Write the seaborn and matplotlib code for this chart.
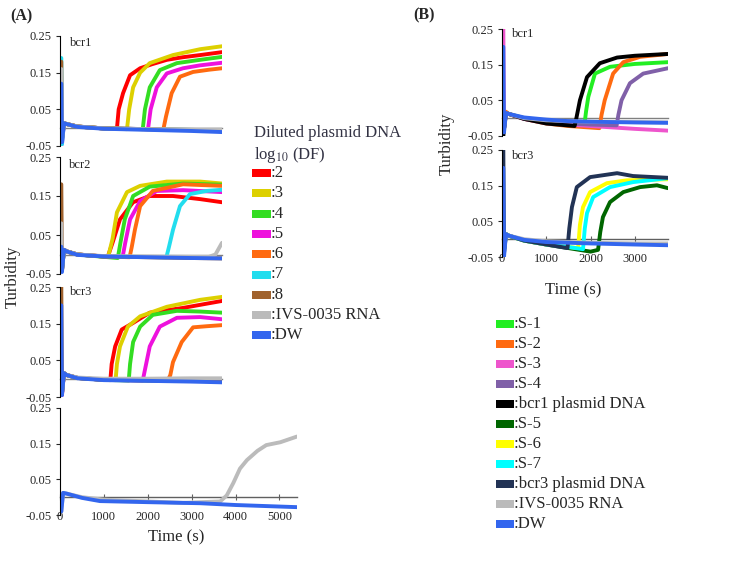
import pandas as pd
import matplotlib
matplotlib.use('Agg')
import matplotlib.pyplot as plt
from matplotlib.patches import Rectangle
import seaborn as sns

sns.set_style('white')
plt.rcParams['font.family'] = ['Liberation Serif', 'DejaVu Serif']
plt.rcParams['mathtext.fontset'] = 'stix'

# %% data: (time s, turbidity)
legA_labels = ['2', '3', '4', '5', '6', '7', '8', 'IVS-0035 RNA', 'DW']
legA_colors = ['#FF0000', '#DDD000', '#33DD22', '#EE11DD', '#FF6A10',
               '#22DDEE', '#A0622D', '#BBBBBB', '#3366EE']

legB_labels = ['S-1', 'S-2', 'S-3', 'S-4', 'bcr1 plasmid DNA', 'S-5', 'S-6',
               'S-7', 'bcr3 plasmid DNA', 'IVS-0035 RNA', 'DW']
legB_colors = ['#22EE22', '#FF6A10', '#EE55CC', '#8060A8', '#000000',
               '#006600', '#FFFF00', '#00FFFF', '#223355', '#BBBBBB', '#3366EE']

yticks = [0.25, 0.15, 0.05, -0.05]
ytick_labels = ['0.25', '0.15', '0.05', '-0.05']

A_bcr1 = {
    '2': ([30, 45, 90, 150, 400, 1000, 1300, 1340, 1440, 1600, 1830, 2100, 2440, 2800, 3200, 3700],
          [0.02, -0.03, 0.012, 0.01, 0.003, -0.002, -0.003, 0.05, 0.094, 0.143, 0.162, 0.173, 0.185, 0.192, 0.198, 0.206]),
    '3': ([30, 45, 90, 150, 400, 1000, 1530, 1580, 1670, 1830, 2050, 2580, 3200, 3700],
          [0.02, -0.03, 0.012, 0.01, 0.003, -0.002, -0.004, 0.05, 0.11, 0.15, 0.176, 0.198, 0.214, 0.222]),
    '4': ([30, 45, 90, 150, 400, 1000, 1890, 1940, 2050, 2280, 2670, 3200, 3700],
          [0.02, -0.03, 0.012, 0.01, 0.003, -0.002, -0.004, 0.05, 0.11, 0.157, 0.176, 0.185, 0.193]),
    '5': ([30, 45, 90, 150, 400, 1000, 2010, 2070, 2210, 2440, 2810, 3200, 3700],
          [0.02, -0.045, 0.012, 0.01, 0.003, -0.002, -0.004, 0.05, 0.11, 0.148, 0.162, 0.17, 0.177]),
    '6': ([30, 45, 90, 150, 400, 1000, 2360, 2420, 2550, 2740, 3040, 3400, 3700],
          [0.02, -0.03, 0.012, 0.01, 0.003, -0.002, -0.005, 0.03, 0.094, 0.139, 0.152, 0.158, 0.162]),
    '7': ([30, 45, 90, 150, 400, 1000, 2000, 3000, 3700],
          [0.19, -0.045, 0.012, 0.01, 0.003, -0.002, -0.004, -0.006, -0.008]),
    '8': ([30, 45, 90, 150, 400, 1000, 2000, 3000, 3700],
          [0.18, -0.03, 0.012, 0.01, 0.003, -0.002, -0.004, -0.006, -0.007]),
    'IVS-0035 RNA': ([30, 45, 90, 150, 400, 1000, 2000, 3000, 3700],
                     [0.16, -0.03, 0.012, 0.01, 0.003, -0.002, -0.004, -0.005, -0.005]),
    'DW': ([30, 45, 90, 150, 400, 1000, 2000, 3000, 3700],
           [0.12, -0.04, 0.012, 0.01, 0.002, -0.003, -0.006, -0.009, -0.012]),
}

A_bcr2 = {
    '2': ([30, 45, 90, 150, 400, 1000, 1090, 1200, 1370, 1670, 2050, 2580, 3200, 3700],
          [0.02, -0.04, 0.012, 0.008, 0.0, -0.005, -0.006, 0.03, 0.09, 0.134, 0.15, 0.15, 0.142, 0.134]),
    '3': ([30, 45, 90, 150, 400, 1000, 1100, 1200, 1300, 1530, 1830, 2440, 3200, 3700],
          [0.02, -0.04, 0.012, 0.008, 0.0, -0.005, -0.006, 0.04, 0.108, 0.16, 0.176, 0.187, 0.187, 0.182]),
    '4': ([30, 45, 90, 150, 400, 1000, 1320, 1380, 1480, 1670, 2050, 2810, 3700],
          [0.02, -0.04, 0.012, 0.008, 0.0, -0.006, -0.009, 0.03, 0.09, 0.15, 0.174, 0.182, 0.179]),
    '5': ([30, 45, 90, 150, 400, 1000, 1430, 1490, 1600, 1830, 2210, 2810, 3700],
          [0.02, -0.04, 0.012, 0.008, 0.0, -0.005, -0.006, 0.03, 0.09, 0.137, 0.163, 0.165, 0.16]),
    '6': ([30, 45, 90, 150, 400, 1000, 1590, 1640, 1710, 1830, 2120, 2810, 3700],
          [0.02, -0.04, 0.012, 0.008, 0.0, -0.005, -0.007, 0.02, 0.063, 0.124, 0.163, 0.18, 0.176]),
    '7': ([30, 45, 90, 150, 400, 1000, 2430, 2490, 2580, 2740, 2970, 3350, 3700],
          [0.02, -0.04, 0.012, 0.008, 0.0, -0.005, -0.007, 0.02, 0.063, 0.124, 0.155, 0.163, 0.166]),
    '8': ([30, 45, 90, 150, 400, 1000, 2000, 3000, 3700],
          [0.18, -0.03, 0.012, 0.008, 0.0, -0.005, -0.007, -0.009, -0.01]),
    'IVS-0035 RNA': ([30, 45, 90, 150, 400, 1000, 2000, 3000, 3400, 3550, 3700],
                     [0.08, -0.03, 0.012, 0.008, 0.0, -0.004, -0.005, -0.006, -0.006, 0.0, 0.03]),
    'DW': ([30, 45, 90, 150, 400, 1000, 2000, 3000, 3700],
           [0.02, -0.045, 0.012, 0.008, -0.001, -0.005, -0.007, -0.009, -0.01]),
}

A_bcr3 = {
    '2': ([30, 45, 90, 150, 400, 1000, 1150, 1180, 1260, 1410, 1670, 2050, 2810, 3700],
          [0.02, -0.04, 0.015, 0.01, 0.002, -0.003, -0.004, 0.04, 0.088, 0.134, 0.152, 0.18, 0.193, 0.212]),
    '3': ([30, 45, 90, 150, 400, 1000, 1270, 1300, 1370, 1550, 1830, 2440, 3200, 3700],
          [0.02, -0.04, 0.015, 0.01, 0.002, -0.003, -0.004, 0.04, 0.088, 0.142, 0.17, 0.196, 0.215, 0.223]),
    '4': ([30, 45, 90, 150, 400, 1000, 1570, 1600, 1670, 1830, 2120, 2670, 3200, 3700],
          [0.02, -0.04, 0.015, 0.01, 0.002, -0.003, -0.005, 0.04, 0.1, 0.142, 0.174, 0.185, 0.183, 0.18]),
    '5': ([30, 45, 90, 150, 400, 1000, 1890, 1950, 2050, 2280, 2670, 3200, 3700],
          [0.02, -0.045, 0.015, 0.01, 0.002, -0.003, -0.005, 0.03, 0.088, 0.142, 0.166, 0.168, 0.162]),
    '6': ([30, 45, 90, 150, 400, 1000, 2460, 2520, 2580, 2780, 3040, 3350, 3700],
          [0.02, -0.04, 0.015, 0.01, 0.002, -0.003, -0.005, 0.01, 0.045, 0.1, 0.14, 0.143, 0.146]),
    '7': ([30, 45, 90, 150, 400, 1000, 2000, 3000, 3700],
          [0.02, -0.04, 0.015, 0.01, 0.002, -0.003, -0.005, -0.006, -0.007]),
    '8': ([30, 45, 90, 150, 400, 1000, 2000, 3000, 3700],
          [0.25, -0.03, 0.015, 0.01, 0.002, -0.003, -0.005, -0.006, -0.007]),
    'IVS-0035 RNA': ([30, 45, 90, 150, 400, 1000, 2000, 3000, 3700],
                     [0.02, -0.03, 0.015, 0.01, 0.003, 0.0, 0.0, 0.001, 0.001]),
    'DW': ([30, 45, 90, 150, 400, 1000, 2000, 3000, 3700],
           [0.2, -0.045, 0.015, 0.01, 0.001, -0.004, -0.006, -0.008, -0.01]),
}

A_neg = {
    'IVS-0035 RNA': ([30, 70, 150, 500, 1000, 2000, 2800, 3650, 3800, 3950, 4100, 4260, 4500, 4700, 5020, 5400],
                     [-0.04, 0.012, 0.01, 0.0, -0.007, -0.012, -0.016, -0.012, 0.005, 0.04, 0.08, 0.104, 0.13, 0.146, 0.154, 0.17]),
    'DW': ([30, 70, 150, 500, 910, 2000, 3200, 4000, 5400],
           [-0.04, 0.012, 0.01, -0.002, -0.011, -0.014, -0.017, -0.022, -0.028]),
}

B_bcr1 = {
    'S-1': ([30, 45, 90, 150, 500, 1000, 1860, 1900, 1950, 2100, 2440, 3000, 3750],
            [0.02, -0.03, 0.014, 0.012, 0.0, -0.012, -0.02, 0.02, 0.06, 0.125, 0.144, 0.152, 0.157]),
    'S-2': ([30, 45, 90, 150, 500, 1000, 1500, 2200, 2250, 2320, 2510, 2740, 3120, 3750],
            [0.02, -0.03, 0.018, 0.012, -0.002, -0.015, -0.022, -0.028, 0.01, 0.05, 0.125, 0.157, 0.172, 0.18]),
    'S-3': ([30, 45, 90, 150, 500, 1000, 2000, 3000, 3750],
            [0.25, -0.03, 0.014, 0.012, -0.002, -0.014, -0.022, -0.03, -0.035]),
    'S-4': ([30, 45, 90, 150, 500, 1000, 2000, 2590, 2630, 2700, 2890, 3190, 3750],
            [0.02, -0.03, 0.014, 0.012, -0.002, -0.012, -0.018, -0.02, 0.01, 0.05, 0.098, 0.125, 0.14]),
    'bcr1 plasmid DNA': ([30, 45, 90, 150, 500, 1000, 1640, 1680, 1760, 1920, 2210, 2600, 3000, 3750],
                         [-0.05, -0.03, 0.014, 0.012, -0.002, -0.015, -0.022, 0.0, 0.05, 0.115, 0.154, 0.17, 0.175, 0.18]),
    'IVS-0035 RNA': ([30, 45, 90, 150, 500, 1000, 2000, 3000, 3750],
                     [0.02, -0.03, 0.014, 0.012, 0.0, -0.006, -0.01, -0.011, -0.012]),
    'DW': ([30, 45, 90, 150, 500, 1000, 1460, 2000, 3000, 3750],
           [0.2, -0.04, 0.014, 0.012, 0.002, -0.004, -0.008, -0.01, -0.012, -0.013]),
}

B_bcr3 = {
    'S-5': ([30, 45, 90, 150, 500, 1000, 1500, 2000, 2170, 2220, 2280, 2440, 2740, 3120, 3500, 3750],
            [0.02, -0.03, 0.014, 0.01, -0.004, -0.015, -0.025, -0.035, -0.03, 0.02, 0.062, 0.104, 0.132, 0.146, 0.151, 0.143]),
    'S-6': ([30, 45, 90, 150, 500, 1000, 1500, 1720, 1760, 1830, 1990, 2370, 2820, 3750],
            [0.02, -0.03, 0.014, 0.01, -0.004, -0.015, -0.022, -0.025, 0.04, 0.09, 0.132, 0.157, 0.165, 0.168]),
    'S-7': ([30, 45, 90, 150, 500, 1000, 1500, 1830, 1870, 1920, 2060, 2440, 2960, 3750],
            [0.02, -0.03, 0.014, 0.01, -0.004, -0.015, -0.022, -0.028, 0.03, 0.073, 0.118, 0.146, 0.16, 0.171]),
    'bcr3 plasmid DNA': ([30, 45, 90, 150, 500, 1000, 1480, 1520, 1580, 1690, 1990, 2600, 2960, 3750],
                         [0.25, -0.04, 0.014, 0.01, -0.004, -0.015, -0.025, 0.03, 0.09, 0.146, 0.174, 0.185, 0.177, 0.172]),
    'IVS-0035 RNA': ([30, 45, 90, 150, 500, 1000, 2000, 3000, 3750],
                     [0.02, -0.03, 0.014, 0.01, 0.0, -0.006, -0.01, -0.012, -0.012]),
    'DW': ([30, 45, 90, 150, 500, 1000, 2000, 3000, 3750],
           [0.2, -0.05, 0.014, 0.01, -0.002, -0.008, -0.012, -0.015, -0.017]),
}

# %% figure
W, H = 750, 563
fig = plt.figure(figsize=(7.5, 5.63), dpi=100)


def px(x, y):
    return x / W, 1 - y / H


def add_ax(left, top, right, bottom):
    return fig.add_axes([left / W, 1 - bottom / H, (right - left) / W, (bottom - top) / H])


def draw_panel(ax, series, labels, colors, xmax, xticks=None):
    rows = []
    for name in labels:
        if name in series:
            t, v = series[name]
            rows += [(name, a, b) for a, b in zip(t, v)]
    df = pd.DataFrame(rows, columns=['series', 't', 'v'])
    order = [n for n in labels if n in series]
    pal = dict(zip(labels, colors))
    sns.lineplot(data=df, x='t', y='v', hue='series', hue_order=order,
                 palette=pal, estimator=None, sort=False, legend=False,
                 lw=2.8, ax=ax)
    ax.set_xlim(0, xmax)
    ax.set_ylim(-0.05, 0.25)
    ax.set_yticks(yticks)
    ax.set_yticklabels(ytick_labels, fontsize=9)
    ax.set_xlabel('')
    ax.set_ylabel('')
    ax.spines['top'].set_visible(False)
    ax.spines['right'].set_visible(False)
    ax.spines['left'].set_color('black')
    ax.spines['left'].set_linewidth(0.8)
    ax.spines['bottom'].set_position(('data', 0))
    ax.tick_params(axis='y', direction='out', length=3, width=0.8, pad=3, left=True)
    if xticks is None:
        ax.spines['bottom'].set_color('#808080')
        ax.spines['bottom'].set_linewidth(1.0)
        ax.set_xticks([])
    else:
        ax.spines['bottom'].set_color('#606060')
        ax.spines['bottom'].set_linewidth(1.0)
        ax.set_xticks(xticks)
        ax.set_xticklabels([str(x) for x in xticks], fontsize=9)
        ax.tick_params(axis='x', direction='inout', length=4, width=0.8,
                       pad=8, bottom=True, color='#606060')
    ax.spines['bottom'].set_zorder(0)


axA1 = add_ax(60, 36, 222, 146)
axA2 = add_ax(60, 157, 222, 274)
axA3 = add_ax(60, 287, 222, 397)
axA4 = add_ax(60, 408, 297, 515)
axB1 = add_ax(502, 29, 668, 136)
axB3 = add_ax(502, 150, 668, 257)

draw_panel(axA1, A_bcr1, legA_labels, legA_colors, 3700)
draw_panel(axA2, A_bcr2, legA_labels, legA_colors, 3700)
draw_panel(axA3, A_bcr3, legA_labels, legA_colors, 3700)
draw_panel(axA4, A_neg, legA_labels, legA_colors, 5400, [0, 1000, 2000, 3000, 4000, 5000])
draw_panel(axB1, B_bcr1, legB_labels, legB_colors, 3750)
draw_panel(axB3, B_bcr3, legB_labels, legB_colors, 3750, [0, 1000, 2000, 3000])

# panel names
for x, y, s in [(70, 43, 'bcr1'), (69, 165, 'bcr2'), (70, 292, 'bcr3'),
                (512, 34, 'bcr1'), (512, 156, 'bcr3')]:
    fig.text(*px(x, y), s, fontsize=9, va='center', ha='left')

fig.text(*px(10, 16), '(A)', fontsize=11.5, fontweight='bold', va='center')
fig.text(*px(413, 15), '(B)', fontsize=11.5, fontweight='bold', va='center')
fig.text(*px(13, 277), 'Turbidity', fontsize=12, rotation=90, va='center', ha='center')
fig.text(*px(447, 144), 'Turbidity', fontsize=12, rotation=90, va='center', ha='center')
fig.text(*px(176, 537), 'Time (s)', fontsize=12, va='center', ha='center')
fig.text(*px(573, 290), 'Time (s)', fontsize=12, va='center', ha='center')

# legend A
fig.text(*px(254, 133), 'Diluted plasmid DNA', fontsize=12, va='center', color='#333344')
fig.text(*px(254, 155), r'log$_{10}$ (DF)', fontsize=12, va='center', color='#333344')
for i, (lab, col) in enumerate(zip(legA_labels, legA_colors)):
    y = 173 + i * 20.3
    x0, y0 = px(252, y + 4)
    fig.add_artist(Rectangle((x0, y0), 19 / W, 8 / H, transform=fig.transFigure,
                             color=col, lw=0))
    fig.text(*px(271, y), ':' + lab, fontsize=12, va='center', ha='left')

# legend B
for i, (lab, col) in enumerate(zip(legB_labels, legB_colors)):
    y = 324 + i * 20
    x0, y0 = px(496, y + 4)
    fig.add_artist(Rectangle((x0, y0), 18 / W, 8 / H, transform=fig.transFigure,
                             color=col, lw=0))
    fig.text(*px(514, y), ':' + lab, fontsize=12, va='center', ha='left')

plt.savefig('out.png', dpi=100)
